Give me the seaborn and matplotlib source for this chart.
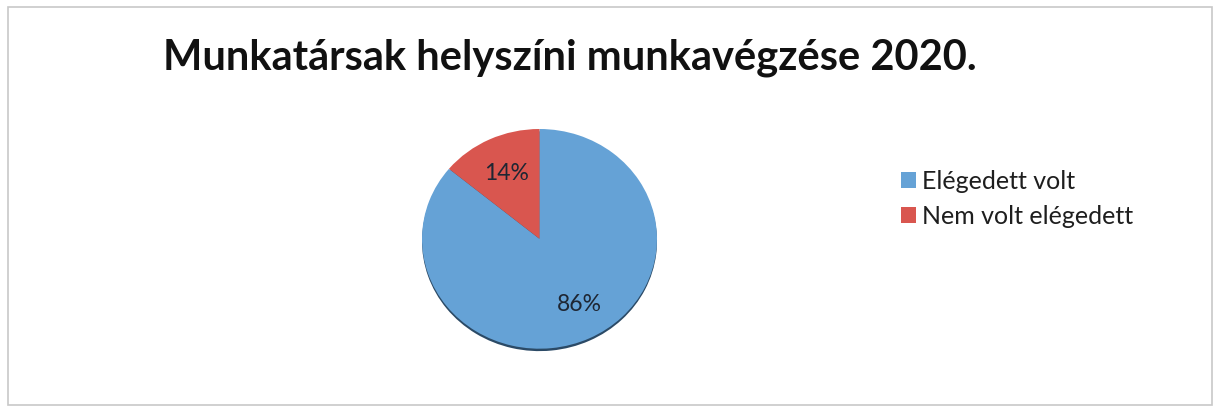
import matplotlib
matplotlib.use("Agg")
import matplotlib.pyplot as plt
import seaborn as sns
from matplotlib.patches import Rectangle

sns.set_theme(style="white")
plt.rcParams["font.family"] = ["Lato", "DejaVu Sans"]

# Survey result
title = "Munkatársak helyszíni munkavégzése 2020."
categories = ["Elégedett volt", "Nem volt elégedett"]
shares = [86, 14]
colors = sns.color_palette(["#65A2D6", "#D9564F"])

W, H = 1213, 408
fig = plt.figure(figsize=(W / 100, H / 100), dpi=100)
fig.patch.set_facecolor("white")

# thin chart-area frame
fig.add_artist(Rectangle((8 / W, 3 / H), (W - 9) / W, (H - 10) / H,
                         transform=fig.transFigure, fill=False,
                         edgecolor="#c8c8c8", linewidth=1.2))

fig.text(570 / W, 1 - 58 / H, title, ha="center", va="center",
         fontsize=30, fontweight="bold", color="#111111")

# pie axes, slightly flattened
left, top, right, bottom = 422, 129, 657, 352
ax = fig.add_axes([left / W, 1 - bottom / H, (right - left) / W, (bottom - top) / H])

# dark rim below the pie
ax.pie(shares, colors=["#2b4a66", "#2b4a66"], startangle=90,
       counterclock=False, radius=1.0, center=(0, -0.022),
       wedgeprops=dict(linewidth=0))
wedges, texts, autotexts = ax.pie(
    shares, colors=colors, startangle=90, counterclock=False,
    autopct="%d%%", pctdistance=0.66, radius=1.0,
    wedgeprops=dict(linewidth=0),
    textprops=dict(fontsize=16.5, color="#1e2633"))
autotexts[0].set_x(autotexts[0].get_position()[0] + 0.06)
ax.set_xlim(-1.0, 1.0)
ax.set_ylim(-1.03, 1.0)
ax.set_aspect("auto")
ax.axis("off")

fig.legend(wedges, categories, loc="upper left",
           bbox_to_anchor=(891 / W, 1 - 160 / H), frameon=False,
           fontsize=18, handlelength=0.6, handleheight=0.6,
           handletextpad=0.25, labelspacing=0.48, borderaxespad=0,
           labelcolor="#1e1e1e")

fig.savefig("out.png", dpi=100, facecolor="white")
